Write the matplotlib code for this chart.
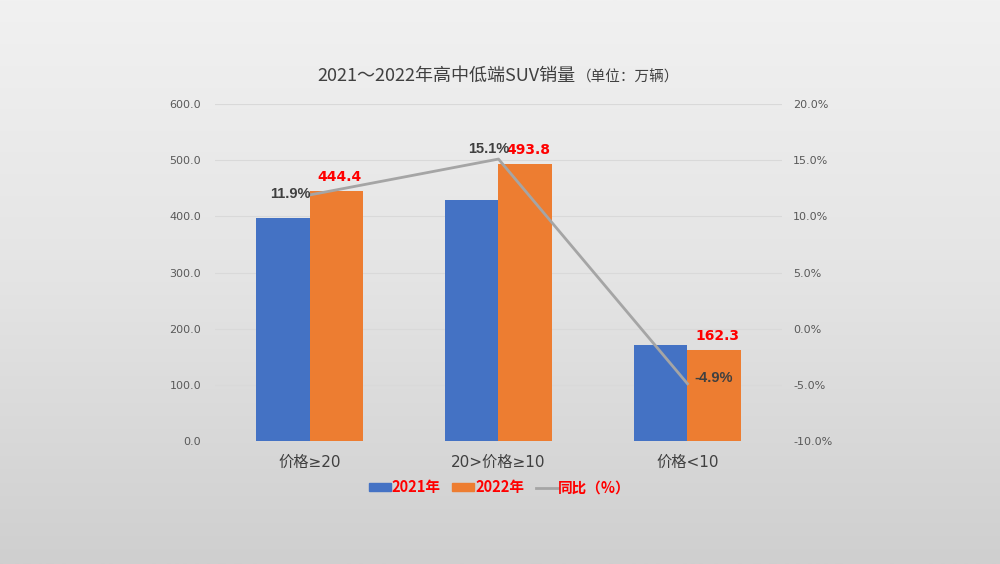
import matplotlib
matplotlib.use("Agg")
import matplotlib.pyplot as plt
import numpy as np
from matplotlib.patches import Patch
from matplotlib.lines import Line2D
from matplotlib.colors import LinearSegmentedColormap

plt.rcParams['font.family'] = ['Noto Sans CJK SC', 'DejaVu Sans']

categories = ['价格≥20', '20>价格≥10', '价格<10']
sales_2021 = [397.1, 429.0, 170.7]
sales_2022 = [444.4, 493.8, 162.3]
yoy = [11.9, 15.1, -4.9]
left_ticks = [0, 100, 200, 300, 400, 500, 600]
right_ticks = [-10, -5, 0, 5, 10, 15, 20]

blue = '#4472C4'
orange = '#ED7D31'
grey_line = '#A5A5A5'

fig = plt.figure(figsize=(10, 5.64), dpi=100)
bg = fig.add_axes([0, 0, 1, 1], zorder=-10)
grad = np.linspace(0, 1, 256).reshape(-1, 1)
cmap = LinearSegmentedColormap.from_list('bg', ['#f1f1f1', '#e4e4e4', '#cfcfcf'])
bg.imshow(grad, aspect='auto', cmap=cmap, extent=[0, 1, 0, 1])
bg.axis('off')

ax = fig.add_axes([0.215, 0.218, 0.567, 0.5976])
ax.patch.set_alpha(0)
x = np.arange(len(categories))
w = 0.285
ax.bar(x - w/2, sales_2021, w, color=blue, zorder=3)
ax.bar(x + w/2, sales_2022, w, color=orange, zorder=3)
for xi, v in zip(x, sales_2022):
    ax.annotate(f'{v:.1f}', (xi + w/2, v), xytext=(2, 5), textcoords='offset points',
                ha='center', va='bottom', color='#FF0000',
                fontsize=10, fontweight='bold', family=['DejaVu Sans'], zorder=6)

ax.set_xlim(-0.5, 2.5)
ax.set_ylim(0, 600)
ax.set_yticks(left_ticks)
ax.set_yticklabels([f'{t:.1f}' for t in left_ticks], fontsize=8, color='#595959', family=['DejaVu Sans'])
ax.set_xticks(x)
ax.set_xticklabels(categories, fontsize=11, color='#404040', family=['DejaVu Sans', 'Noto Sans CJK SC'])
ax.tick_params(axis='both', length=0)
ax.tick_params(axis='x', pad=10)
ax.tick_params(axis='y', pad=10)
ax.grid(axis='y', color='#d9d9d9', linewidth=0.8, zorder=0)
for s in ax.spines.values():
    s.set_visible(False)

ax2 = ax.twinx()
ax2.set_ylim(-10, 20)
ax2.set_yticks(right_ticks)
ax2.set_yticklabels([f'{t:.1f}%' for t in right_ticks], fontsize=8, color='#595959', family=['DejaVu Sans'])
ax2.tick_params(axis='y', length=0, pad=8)
for s in ax2.spines.values():
    s.set_visible(False)
ax2.plot(x, yoy, color=grey_line, linewidth=2, zorder=5)
offsets = [(1, 1, 'right', 'center'), (-7, 2, 'center', 'bottom'), (5, 4, 'left', 'center')]
for xi, v, (dx, dy, ha, va) in zip(x, yoy, offsets):
    ax2.annotate(f'{v:.1f}%', (xi, v), xytext=(dx, dy), textcoords='offset points',
                 ha=ha, va=va, color='#404040', fontsize=10.5, fontweight='bold',
                 family=['Liberation Sans'], zorder=7)

t1 = fig.text(0.317, 0.865, '2021～2022年高中低端SUV销量', fontsize=13, color='#404040', ha='left', va='center')
fig.canvas.draw()
bb = t1.get_window_extent(renderer=fig.canvas.get_renderer())
x_end = bb.x1 / fig.bbox.width
fig.text(x_end + 0.002, 0.862, '（单位：万辆）', fontsize=10.5, color='#404040', ha='left', va='center')

handles = [Patch(color=blue), Patch(color=orange), Line2D([0], [0], color=grey_line, lw=2)]
leg = fig.legend(handles, ['2021年', '2022年', '同比（%）'], loc='center', bbox_to_anchor=(0.5, 0.136),
                 ncol=3, frameon=False, fontsize=10.5, handlelength=1.5, handleheight=0.5,
                 columnspacing=0.8, handletextpad=0.05)
for t in leg.get_texts():
    t.set_color('#FF0000')
    t.set_fontweight('bold')

fig.savefig('out.png', dpi=100)
